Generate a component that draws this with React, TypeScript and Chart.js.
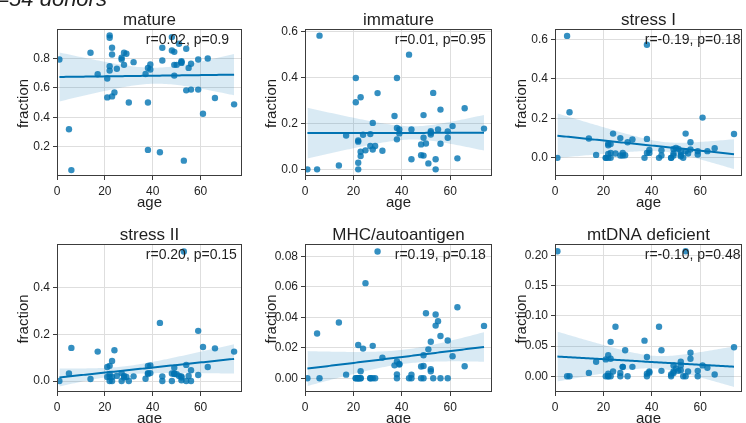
import React, { useEffect, useRef } from "react";
import { Chart, registerables } from "chart.js";

Chart.register(...registerables);

// ---------------- data ----------------
const ages = [1, 5, 6, 14, 17, 21, 21, 22, 22, 22, 22, 23, 23, 23, 24, 25, 27, 27, 28, 28, 29, 30, 32, 37, 38, 38, 38, 39, 39, 43, 44, 44, 48, 48, 49, 49, 49, 50, 51, 52, 52, 52, 53, 54, 54, 55, 56, 56, 59, 59, 61, 63, 66, 74];

const matureFrac = [0.793, 0.32, 0.043, 0.839, 0.693, 0.664, 0.536, 0.957, 0.941, 0.748, 0.718, 0.873, 0.827, 0.543, 0.57, 0.73, 0.805, 0.793, 0.839, 0.757, 0.832, 0.502, 0.775, 0.695, 0.736, 0.502, 0.18, 0.725, 0.759, 0.164, 0.873, 0.786, 0.945, 0.855, 0.845, 0.757, 0.684, 0.757, 0.9, 0.782, 0.77, 0.775, 0.107, 0.866, 0.584, 0.736, 0.764, 0.589, 0.793, 0.589, 0.425, 0.8, 0.532, 0.489];

const immatureFrac = [0, 0, 0.584, 0.017, 0.148, 0.399, 0.293, 0.029, 0.0, 0.121, 0.126, 0.315, 0.077, 0.058, 0.151, 0.083, 0.154, 0.102, 0.203, 0.087, 0.102, 0.333, 0.081, 0.233, 0.399, 0.181, 0.131, 0.174, 0.157, 0.501, 0.174, 0.044, 0.109, 0.062, 0.237, 0.138, 0.06, 0.113, 0.026, 0.167, 0.152, 0.16, 0.334, 0.044, 0.0, 0.174, 0.261, 0.112, 0.166, 0.138, 0.189, 0.048, 0.267, 0.178];

const stressIFrac = [0, 0.618, 0.231, 0.098, 0.015, 0.0, 0.0, 0.064, 0.072, 0.0, 0.02, 0.025, 0.0, 0.07, 0.123, 0.022, 0.1, 0.012, 0.025, 0.012, 0.013, 0.079, 0.093, 0.0, 0.096, 0.573, 0.025, 0.04, 0.025, 0.0, 0.039, 0.012, 0.0, 0.0, 0.045, 0.022, 0.012, 0.05, 0.045, 0.015, 0.008, 0.03, 0.0, 0.123, 0.034, 0.022, 0.042, 0.079, 0.017, 0.034, 0.204, 0.034, 0.049, 0.121];

const stressIIFrac = [0, 0.032, 0.142, 0.009, 0.126, 0.06, 0.017, 0.065, 0.017, 0.0, 0.03, 0.086, 0.017, 0.0, 0.132, 0.022, 0.034, 0.0, 0.022, 0.015, 0.017, 0.0, 0.02, 0.01, 0.065, 0.034, 0.03, 0.067, 0.034, 0.249, 0.02, 0.0, 0.032, 0.0, 0.057, 0.032, 0.03, 0.029, 0.022, 0.02, 0.003, 0.015, 0.555, 0.069, 0.0, 0.022, 0.046, 0.0, 0.215, 0.026, 0.146, 0.06, 0.14, 0.126];

const mhcFrac = [0, 0.0294, 0, 0.0366, 0.0024, 0, 0, 0.0219, 0, 0, 0, 0.0046, 0, 0, 0.0195, 0.0625, 0, 0, 0.0213, 0, 0, 0.0833, 0.0136, 0.0085, 0.011, 0.0026, 0, 0.0095, 0.009, 0, 0.0024, 0, 0, 0.0077, 0.0081, 0.0151, 0, 0.0427, 0.019, 0.024, 0.006, 0.0046, 0, 0.0419, 0.0346, 0.0375, 0.0278, 0, 0.0248, 0, 0.0145, 0.0467, 0.0079, 0.0344];

const mtdnaFrac = [0.207, 0, 0, 0.0056, 0.024, 0.028, 0, 0.035, 0, 0.0044, 0, 0.057, 0.029, 0, 0.008, 0.082, 0.0056, 0, 0.0156, 0.0156, 0.043, 0, 0.0156, 0.059, 0.032, 0.0044, 0, 0.008, 0.006, 0.082, 0.043, 0.009, 0, 0.003, 0.018, 0.008, 0.0056, 0.013, 0.009, 0.024, 0.018, 0.01, 0, 0, 0.207, 0.008, 0.039, 0.029, 0.009, 0, 0.018, 0.014, 0.003, 0.048];

const panelValues = [matureFrac, immatureFrac, stressIFrac, stressIIFrac, mhcFrac, mtdnaFrac];
const panelTitles = ["mature", "immature", "stress I", "stress II", "MHC/autoantigen", "mtDNA deficient"];
const statLabels = ["r=0.02, p=0.9", "r=0.01, p=0.95", "r=-0.19, p=0.18", "r=0.20, p=0.15", "r=0.19, p=0.18", "r=-0.10, p=0.48"];
const suptitle = "n=54 donors";

const xTicks = [0, 20, 40, 60];
const yTicksMature = [0.2, 0.4, 0.6, 0.8];
const yTicksImmature = [0, 0.2, 0.4, 0.6];
const yTicksStressI = [0, 0.2, 0.4, 0.6];
const yTicksStressII = [0, 0.2, 0.4];
const yTicksMhc = [0, 0.02, 0.04, 0.06, 0.08];
const yTicksMtdna = [0, 0.05, 0.1, 0.15, 0.2];
const panelYTicks = [yTicksMature, yTicksImmature, yTicksStressI, yTicksStressII, yTicksMhc, yTicksMtdna];
const panelYDecimals = [1, 1, 1, 1, 2, 2];
const panelYMin = [0.003, -0.029, -0.092, -0.047, -0.009, -0.026];
const panelYMax = [1.0, 0.613, 0.653, 0.587, 0.0882, 0.219];
const xMin = 0;
const xMax = 77.3;

// ---------------- layout / style ----------------
const plotRects = [
  [57, 29, 185, 147],
  [305, 29, 187, 147],
  [555, 29, 187, 147],
  [57, 244, 185, 148],
  [305, 244, 187, 148],
  [555, 244, 187, 148],
];
const AX_W = 57;
const AX_H = 34;
const PAD_T = 29;
const PAD_R = 4;

const FONT = '"Liberation Sans", Arial, Helvetica, sans-serif';
const TEXT = "#1f1f1f";
const GRID = "#dedede";
const SPINE = "#3c3c3c";
const DOT = "rgba(1,115,178,0.8)";
const LINE = "rgb(1,115,178)";
const BAND = "rgba(1,115,178,0.15)";

// least-squares fit with a 95% (heteroskedasticity-robust) confidence band
function regression(xs: number[], ys: number[], steps = 80) {
  const n = xs.length;
  const mx = xs.reduce((s, v) => s + v, 0) / n;
  const my = ys.reduce((s, v) => s + v, 0) / n;
  let sxx = 0;
  let sxy = 0;
  for (let k = 0; k < n; k++) {
    sxx += (xs[k] - mx) ** 2;
    sxy += (xs[k] - mx) * (ys[k] - my);
  }
  const b = sxy / sxx;
  const a = my - b * mx;
  const res = xs.map((x, k) => ys[k] - a - b * x);
  const z = 1.96;
  const x0 = Math.min(...xs);
  const x1 = Math.max(...xs);
  const line: { x: number; y: number }[] = [];
  const upper: { x: number; y: number }[] = [];
  const lower: { x: number; y: number }[] = [];
  for (let j = 0; j <= steps; j++) {
    const x = x0 + ((x1 - x0) * j) / steps;
    const yh = a + b * x;
    let v = 0;
    for (let k = 0; k < n; k++) {
      const w = 1 / n + ((x - mx) * (xs[k] - mx)) / sxx;
      v += w * w * res[k] * res[k];
    }
    const h = z * Math.sqrt(v);
    line.push({ x, y: yh });
    upper.push({ x, y: yh + h });
    lower.push({ x, y: yh - h });
  }
  return { line, upper, lower };
}

function Panel({ i }: { i: number }) {
  const ref = useRef<HTMLCanvasElement | null>(null);
  const [px, py, pw, ph] = plotRects[i];
  const W = AX_W + pw + PAD_R;
  const H = PAD_T + ph + AX_H;

  useEffect(() => {
    const canvas = ref.current;
    if (!canvas) return;
    const ys = panelValues[i];
    const { line, upper, lower } = regression(ages, ys);
    const pts = ages.map((a, k) => ({ x: a, y: ys[k] }));
    const dec = panelYDecimals[i];

    const decor = {
      id: "decor" + i,
      afterDraw(chart: any) {
        const ctx = chart.ctx as CanvasRenderingContext2D;
        const { left, top, right, bottom } = chart.chartArea;
        ctx.save();
        ctx.strokeStyle = SPINE;
        ctx.lineWidth = 1;
        ctx.strokeRect(left + 0.5, top + 0.5, right - left - 1, bottom - top - 1);
        ctx.fillStyle = TEXT;
        ctx.font = `17px ${FONT}`;
        ctx.textAlign = "center";
        ctx.textBaseline = "alphabetic";
        ctx.fillText(panelTitles[i], (left + right) / 2, top - 4);
        ctx.font = `14px ${FONT}`;
        ctx.textAlign = "left";
        ctx.textBaseline = "middle";
        ctx.fillText(statLabels[i], left + 0.48 * (right - left), top + 11.5);
        ctx.font = `15px ${FONT}`;
        ctx.textAlign = "center";
        ctx.textBaseline = "alphabetic";
        ctx.fillText("age", (left + right) / 2, bottom + 31);
        ctx.save();
        ctx.translate(left - 29, (top + bottom) / 2 + 1);
        ctx.rotate(-Math.PI / 2);
        ctx.fillText("fraction", 0, 0);
        ctx.restore();
        if (i === 0) {
          ctx.font = `italic 22px ${FONT}`;
          ctx.textAlign = "left";
          ctx.textBaseline = "alphabetic";
          ctx.fillText(suptitle, -16, 6);
        }
        ctx.restore();
      },
    };

    const chart = new Chart(canvas, {
      type: "scatter",
      data: {
        datasets: [
          {
            type: "line",
            data: line,
            borderColor: LINE,
            borderWidth: 2,
            pointRadius: 0,
            fill: false,
            tension: 0,
          } as any,
          {
            type: "line",
            data: upper,
            borderColor: "transparent",
            borderWidth: 0,
            pointRadius: 0,
            backgroundColor: BAND,
            fill: "+1",
            tension: 0,
          } as any,
          {
            type: "line",
            data: lower,
            borderColor: "transparent",
            borderWidth: 0,
            pointRadius: 0,
            fill: false,
            tension: 0,
          } as any,
          {
            type: "scatter",
            data: pts,
            pointRadius: 3.2,
            pointBackgroundColor: DOT,
            pointBorderColor: "transparent",
            pointBorderWidth: 0,
            borderColor: "transparent",
          } as any,
        ],
      },
      options: {
        animation: false,
        responsive: false,
        devicePixelRatio: 1,
        events: [],
        layout: { padding: { left: 0, top: PAD_T, right: PAD_R, bottom: 0 } },
        plugins: { legend: { display: false }, tooltip: { enabled: false }, title: { display: false } },
        scales: {
          x: {
            type: "linear",
            min: xMin,
            max: xMax,
            afterBuildTicks: (s: any) => {
              s.ticks = xTicks.map((v) => ({ value: v }));
            },
            afterFit: (s: any) => {
              s.height = AX_H;
            },
            ticks: {
              font: { family: FONT, size: 12 },
              color: TEXT,
              padding: 4,
              maxRotation: 0,
              autoSkip: false,
              callback: (v: any) => String(v),
            },
            grid: { color: GRID, lineWidth: 1, drawTicks: true, tickLength: 4, tickColor: SPINE, tickWidth: 1 },
            border: { display: false },
          },
          y: {
            type: "linear",
            min: panelYMin[i],
            max: panelYMax[i],
            afterBuildTicks: (s: any) => {
              s.ticks = panelYTicks[i].map((v) => ({ value: v }));
            },
            afterFit: (s: any) => {
              s.width = AX_W;
            },
            ticks: {
              font: { family: FONT, size: 12 },
              color: TEXT,
              padding: 3,
              autoSkip: false,
              callback: (v: any) => Number(v).toFixed(dec),
            },
            grid: { color: GRID, lineWidth: 1, drawTicks: true, tickLength: 4, tickColor: SPINE, tickWidth: 1 },
            border: { display: false },
          },
        },
      } as any,
      plugins: [decor],
    });
    return () => chart.destroy();
  }, [i]);

  return (
    <canvas
      ref={ref}
      width={W}
      height={H}
      style={{ position: "absolute", left: px - AX_W, top: py - PAD_T, width: W, height: H }}
    />
  );
}

export default function App() {
  return (
    <div
      style={{
        position: "fixed",
        left: 0,
        top: 0,
        width: 746,
        height: 423,
        overflow: "hidden",
        background: "#ffffff",
      }}
    >
      {[0, 1, 2, 3, 4, 5].map((i) => (
        <Panel key={i} i={i} />
      ))}
    </div>
  );
}
